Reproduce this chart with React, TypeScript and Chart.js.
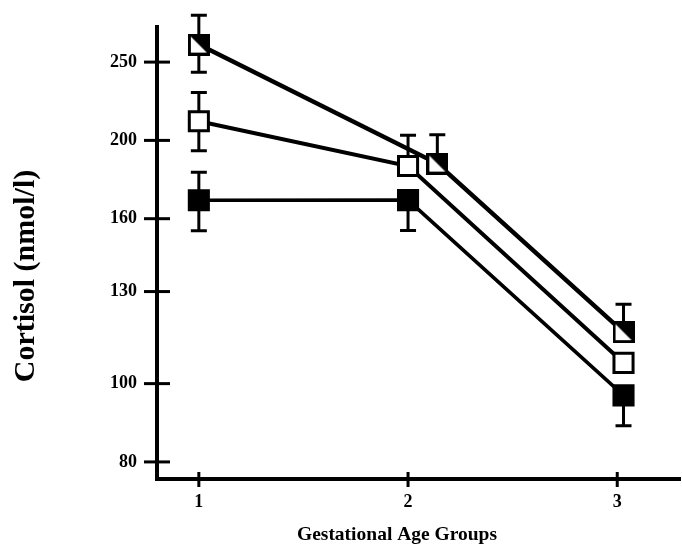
import React, { useEffect, useRef } from "react";
import { Chart, registerables } from "chart.js";

Chart.register(...registerables);

// ---- data ----
const xTicks = [1, 2, 3];
const yTicks = [80, 100, 130, 160, 200, 250];

const xA = [1, 2.14, 3.03];
const xB = [1, 2, 3.03];
const xC = [1, 2, 3.03];

const seriesA = [262.8, 187.2, 115.8]; // half-filled squares
const seriesB = [211.2, 185.9, 106.1]; // open squares
const seriesC = [168.6, 168.7, 96.7]; // filled squares

const errUpA = [23, 16, 9.6];
const errDownA = [20, 0, 0];
const errUpB = [18, 17, 0];
const errDownB = [17, 0, 0];
const errUpC = [14, 0, 0];
const errDownC = [14, 14, 8];

const yTitle = "Cortisol (nmol/l)";
const xTitle = "Gestational Age Groups";

const FONT = "'Liberation Serif', 'Times New Roman', serif";

function makeHalfMarker(size: number, border: number) {
  const c = document.createElement("canvas");
  c.width = size;
  c.height = size;
  const g = c.getContext("2d")!;
  g.fillStyle = "#fff";
  g.fillRect(0, 0, size, size);
  g.fillStyle = "#000";
  g.beginPath();
  g.moveTo(0, 0);
  g.lineTo(size, 0);
  g.lineTo(size, size);
  g.closePath();
  g.fill();
  g.strokeStyle = "#000";
  g.lineWidth = border;
  g.strokeRect(border / 2, border / 2, size - border, size - border);
  return c;
}

const errorBarPlugin = {
  id: "errorBars",
  beforeDatasetsDraw(chart: any) {
    const ctx = chart.ctx;
    const y = chart.scales.y;
    ctx.save();
    ctx.strokeStyle = "#000";
    ctx.lineWidth = 3;
    chart.data.datasets.forEach((ds: any, di: number) => {
      const meta = chart.getDatasetMeta(di);
      meta.data.forEach((pt: any, i: number) => {
        const v = ds.data[i].y;
        const up = ds.errUp[i];
        const dn = ds.errDown[i];
        const px = pt.x;
        const py = pt.y;
        const draw = (val: number) => {
          const ey = y.getPixelForValue(val);
          ctx.beginPath();
          ctx.moveTo(px, py);
          ctx.lineTo(px, ey);
          ctx.moveTo(px - 8, ey);
          ctx.lineTo(px + 8, ey);
          ctx.stroke();
        };
        if (up) draw(v + up);
        if (dn) draw(v - dn);
      });
    });
    ctx.restore();
  },
};

const axisDecorPlugin = {
  id: "axisDecor",
  afterDraw(chart: any) {
    const ctx = chart.ctx;
    const { left, bottom } = chart.chartArea;
    const xs = chart.scales.x;
    const ys = chart.scales.y;
    ctx.save();
    ctx.strokeStyle = "#000";
    ctx.lineWidth = 3;
    yTicks.forEach((v) => {
      const py = ys.getPixelForValue(v);
      ctx.beginPath();
      ctx.moveTo(left - 13, py);
      ctx.lineTo(left + 13, py);
      ctx.stroke();
    });
    xTicks.forEach((v) => {
      const px = xs.getPixelForValue(v);
      ctx.beginPath();
      ctx.moveTo(px, bottom - 7);
      ctx.lineTo(px, bottom + 8);
      ctx.stroke();
    });
    ctx.fillStyle = "#000";
    // y title
    ctx.save();
    ctx.font = `bold 30px ${FONT}`;
    ctx.textAlign = "center";
    ctx.textBaseline = "middle";
    ctx.translate(26, 276);
    ctx.rotate(-Math.PI / 2);
    ctx.fillText(yTitle, 0, 0);
    ctx.restore();
    // x title
    ctx.font = `bold 19.5px ${FONT}`;
    ctx.textAlign = "center";
    ctx.textBaseline = "alphabetic";
    ctx.fillText(xTitle, 397, 540);
    ctx.restore();
  },
};

export default function App() {
  const ref = useRef<HTMLCanvasElement | null>(null);

  useEffect(() => {
    document.body.style.margin = "0";
    const half = makeHalfMarker(22, 3);
    const toPts = (xs: number[], ys: number[]) => xs.map((x, i) => ({ x, y: ys[i] }));
    const chart = new Chart(ref.current!, {
      type: "line",
      data: {
        datasets: [
          {
            data: toPts(xA, seriesA),
            borderColor: "#000",
            borderWidth: 4.5,
            pointStyle: half as any,
            pointRadius: 11,
            errUp: errUpA,
            errDown: errDownA,
          } as any,
          {
            data: toPts(xB, seriesB),
            borderColor: "#000",
            borderWidth: 4,
            pointStyle: "rect",
            pointRadius: 13.5,
            pointBorderWidth: 3,
            pointBackgroundColor: "#fff",
            pointBorderColor: "#000",
            errUp: errUpB,
            errDown: errDownB,
          } as any,
          {
            data: toPts(xC, seriesC),
            borderColor: "#000",
            borderWidth: 3.5,
            pointStyle: "rect",
            pointRadius: 13.5,
            pointBorderWidth: 3,
            pointBackgroundColor: "#000",
            pointBorderColor: "#000",
            errUp: errUpC,
            errDown: errDownC,
          } as any,
        ],
      },
      options: {
        animation: false,
        responsive: false,
        layout: { autoPadding: false, padding: { top: 27, right: 2, left: 0, bottom: 0 } },
        plugins: { legend: { display: false }, tooltip: { enabled: false } },
        scales: {
          x: {
            type: "linear",
            min: 0.8,
            max: 3.3,
            afterBuildTicks: (s: any) => {
              s.ticks = xTicks.map((v) => ({ value: v }));
            },
            afterFit: (s: any) => {
              s.height = 66;
              s.paddingLeft = 0;
              s.paddingRight = 0;
            },
            grid: { display: false, drawTicks: false },
            border: { display: true, color: "#000", width: 4 },
            ticks: {
              padding: 13,
              color: "#000",
              font: { family: FONT, size: 18, weight: "bold" },
              callback: (v: any) => String(v),
            },
          },
          y: {
            type: "logarithmic",
            min: 76.2,
            max: 276.3,
            afterBuildTicks: (s: any) => {
              s.ticks = yTicks.map((v) => ({ value: v }));
            },
            afterFit: (s: any) => {
              s.width = 157;
              s.paddingTop = 0;
              s.paddingBottom = 0;
            },
            grid: { display: false, drawTicks: false },
            border: { display: true, color: "#000", width: 4 },
            ticks: {
              padding: 20,
              color: "#000",
              font: { family: FONT, size: 18, weight: "bold" },
              callback: (v: any) => String(v),
            },
          },
        },
      } as any,
      plugins: [errorBarPlugin, axisDecorPlugin],
    });
    return () => chart.destroy();
  }, []);

  return (
    <div style={{ width: 682, height: 545 }}>
      <canvas ref={ref} width={682} height={545} style={{ width: 682, height: 545, display: "block" }} />
    </div>
  );
}
